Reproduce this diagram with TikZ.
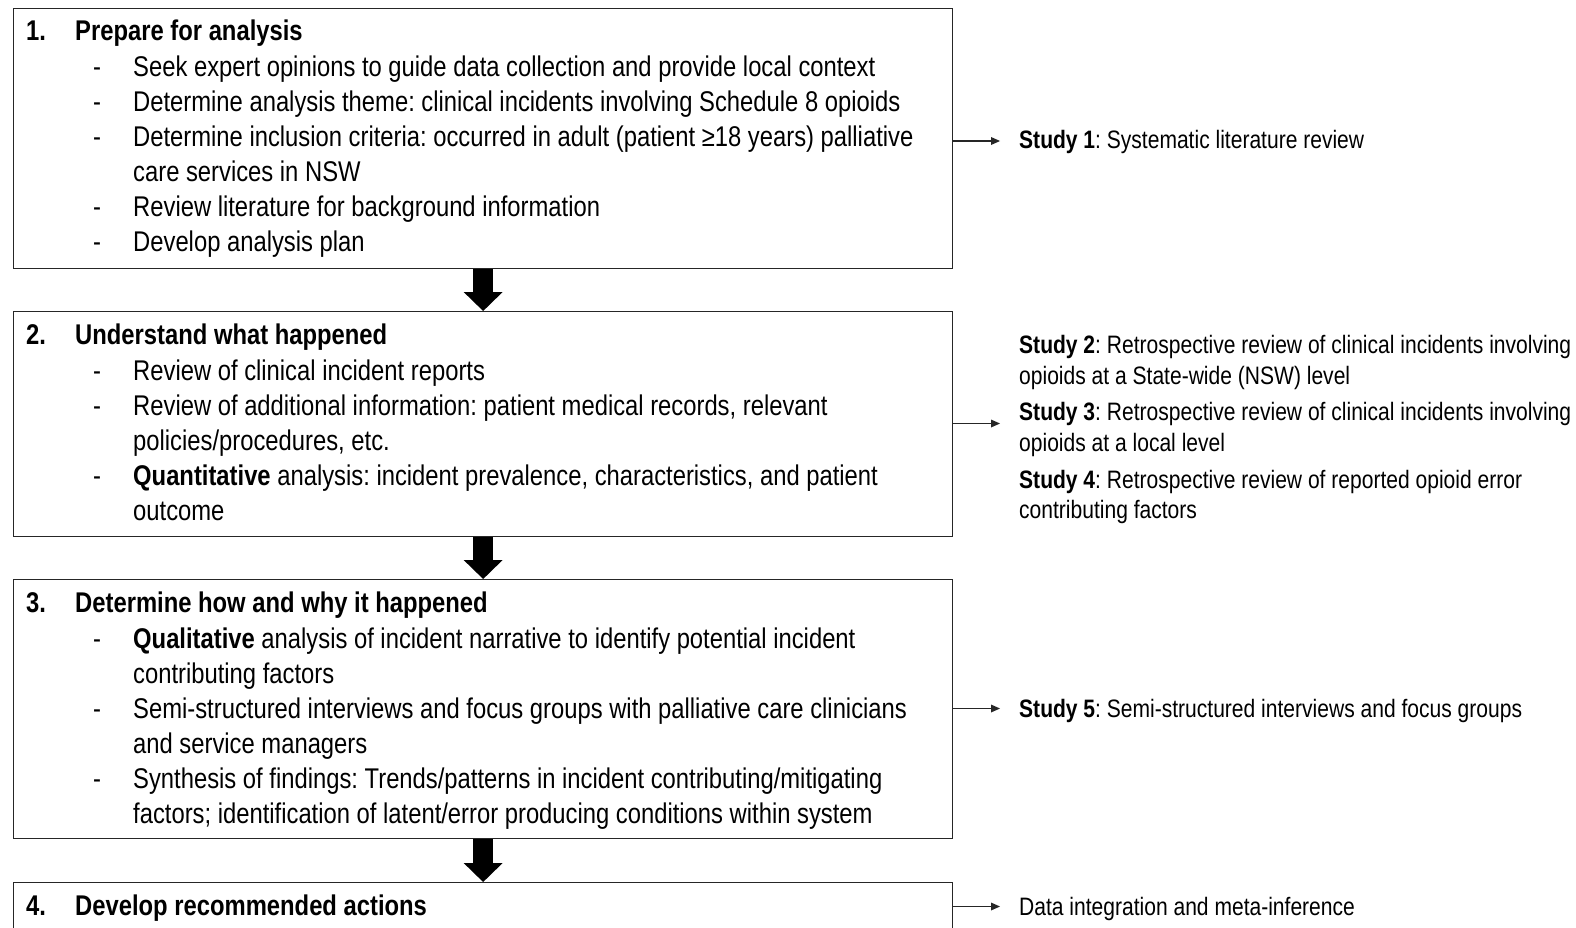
\documentclass[tikz,border=0pt]{standalone}
\usepackage{fontspec}
\setmainfont{Liberation Sans}[FakeStretch=0.835]
\usetikzlibrary{arrows.meta}
\frenchspacing
\newcommand\tline[4]{\node[txt] (#1) at (#2,#3) {#4};}
\newcommand\rline[4]{\node[rtxt] (#1) at (#2,#3) {#4};}
\begin{document}
\begin{tikzpicture}[x=1pt,y=-1pt,
  box/.style={draw=black!85, line width=1.3pt, inner sep=0pt, anchor=north west, minimum width=939pt},
  txt/.style={inner sep=0pt, anchor=base west, font=\frenchspacing\fontsize{28.5}{35}\selectfont},
  rtxt/.style={inner sep=0pt, anchor=base west, font=\frenchspacing\fontsize{25.2}{31}\selectfont},
  bigarr/.style={line width=20pt, -{Triangle[length=19pt,width=39pt,line width=0pt]}},
  smarr/.style={draw=black!85, line width=1.2pt, -{Triangle[length=9pt,width=8pt,line width=0pt]}}]
\useasboundingbox (0,0) rectangle (1576,927);
\clip (0,0) rectangle (1576,927);
% boxes
\node[box, minimum height=260pt] (b1) at (13,8) {};
\node[box, minimum height=225pt] (b2) at (13,311) {};
\node[box, minimum height=259pt] (b3) at (13,579) {};
\node[box, minimum height=90pt] (b4) at (13,882) {};
% big arrows
\draw[bigarr] (b1.south) -- (b2.north);
\draw[bigarr] (b2.south) -- (b3.north);
\draw[bigarr] (b3.south) -- (b4.north);
% box 1
\tline{n1}{26}{40}{\textbf{1.}}
\tline{h1}{75}{40}{\textbf{Prepare for analysis}}
\tline{d11}{93}{76}{-}  \tline{t11}{133}{76}{Seek expert opinions to guide data collection and provide local context}
\tline{d12}{93}{111}{-} \tline{t12}{133}{111}{Determine analysis theme: clinical incidents involving Schedule 8 opioids}
\tline{d13}{93}{146}{-} \tline{t13}{133}{146}{Determine inclusion criteria: occurred in adult (patient ≥18 years) palliative}
\tline{t13b}{133}{181}{care services in NSW}
\tline{d14}{93}{216}{-} \tline{t14}{133}{216}{Review literature for background information}
\tline{d15}{93}{251}{-} \tline{t15}{133}{251}{Develop analysis plan}
% box 2
\tline{n2}{26}{344}{\textbf{2.}}
\tline{h2}{75}{344}{\textbf{Understand what happened}}
\tline{d21}{93}{380}{-} \tline{t21}{133}{380}{Review of clinical incident reports}
\tline{d22}{93}{415}{-} \tline{t22}{133}{415}{Review of additional information: patient medical records, relevant}
\tline{t22b}{133}{450}{policies/procedures, etc.}
\tline{d23}{93}{485}{-} \tline{t23}{133}{485}{\textbf{Quantitative} analysis: incident prevalence, characteristics, and patient}
\tline{t23b}{133}{520}{outcome}
% box 3
\tline{n3}{26}{612}{\textbf{3.}}
\tline{h3}{75}{612}{\textbf{Determine how and why it happened}}
\tline{d31}{93}{648}{-} \tline{t31}{133}{648}{\textbf{Qualitative} analysis of incident narrative to identify potential incident}
\tline{t31b}{133}{683}{contributing factors}
\tline{d32}{93}{718}{-} \tline{t32}{133}{718}{Semi-structured interviews and focus groups with palliative care clinicians}
\tline{t32b}{133}{753}{and service managers}
\tline{d33}{93}{788}{-} \tline{t33}{133}{788}{Synthesis of findings: Trends/patterns in incident contributing/mitigating}
\tline{t33b}{133}{823}{factors; identification of latent/error producing conditions within system}
% box 4
\tline{n4}{26}{915}{\textbf{4.}}
\tline{h4}{75}{915}{\textbf{Develop recommended actions}}
% right side
\coordinate (e1) at (1000,141);
\coordinate (e2) at (1000,423.5);
\coordinate (e3) at (1000,708.5);
\coordinate (e4) at (1000,906.5);
\draw[smarr] (b1.east |- e1) -- (e1);
\draw[smarr] (b2.east |- e2) -- (e2);
\draw[smarr] (b3.east |- e3) -- (e3);
\draw[smarr] (b4.east |- e4) -- (e4);
\rline{s1}{1019}{148}{\textbf{Study 1}: Systematic literature review}
\rline{s2}{1019}{353}{\textbf{Study 2}: Retrospective review of clinical incidents involving}
\rline{s2b}{1019}{384}{opioids at a State-wide (NSW) level}
\rline{s3}{1019}{420}{\textbf{Study 3}: Retrospective review of clinical incidents involving}
\rline{s3b}{1019}{451}{opioids at a local level}
\rline{s4}{1019}{488}{\textbf{Study 4}: Retrospective review of reported opioid error}
\rline{s4b}{1019}{518}{contributing factors}
\rline{s5}{1019}{717}{\textbf{Study 5}: Semi-structured interviews and focus groups}
\rline{s6}{1019}{915.5}{Data integration and meta-inference}
\end{tikzpicture}
\end{document}
